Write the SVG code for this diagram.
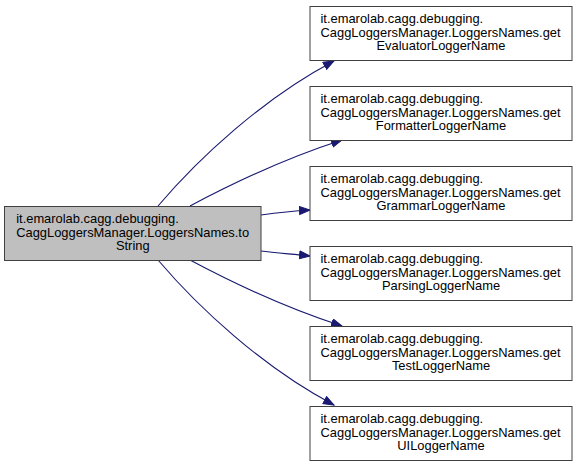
<svg xmlns="http://www.w3.org/2000/svg" width="579" height="465" viewBox="0 0 579 465">
<style>
.node rect{stroke:#404040;stroke-width:1}
.node text{font-family:"Liberation Sans",Arial,Helvetica,sans-serif;font-size:12.9px;fill:#000}
.edge{fill:none;stroke:#191970;stroke-width:1.1}
</style>
<defs>
<marker id="arr" markerUnits="userSpaceOnUse" markerWidth="13" markerHeight="10" refX="11" refY="4.5" orient="auto">
<path d="M0.5,0.5 L11,4.5 L0.5,8.5 z" fill="#191970" stroke="#191970" stroke-width="1"/>
</marker>
</defs>
<rect width="579" height="465" fill="#fff"/>
<g id="edges">
<path class="edge" marker-end="url(#arr)" d="M158,206 C198,159 262,99 334,61"/>
<path class="edge" marker-end="url(#arr)" d="M190,206 C220,190 280,160 342,140"/>
<path class="edge" marker-end="url(#arr)" d="M261,215 C275,213 292,211 310,210"/>
<path class="edge" marker-end="url(#arr)" d="M261,251 C275,253 292,254 310,256"/>
<path class="edge" marker-end="url(#arr)" d="M190,260 C220,276 280,306 342,326"/>
<path class="edge" marker-end="url(#arr)" d="M158,260 C198,307 262,367 334,405"/>
</g>
<g id="node_toString" class="node">
<rect x="4.5" y="206.5" width="256.5" height="54" fill="#bfbfbf"/>
<text x="16.2" y="223">it.emarolab.cagg.debugging.</text>
<text x="16.2" y="236.5">CaggLoggersManager.LoggersNames.to</text>
<text x="132.75" y="250" text-anchor="middle">String</text>
</g>
<g id="node_getEvaluatorLoggerName" class="node">
<rect x="310" y="6.5" width="262" height="54" fill="#fff"/>
<text x="320.5" y="23">it.emarolab.cagg.debugging.</text>
<text x="320.5" y="36.5">CaggLoggersManager.LoggersNames.get</text>
<text x="441" y="50" text-anchor="middle">EvaluatorLoggerName</text>
</g>
<g id="node_getFormatterLoggerName" class="node">
<rect x="310" y="86.5" width="262" height="54" fill="#fff"/>
<text x="320.5" y="103">it.emarolab.cagg.debugging.</text>
<text x="320.5" y="116.5">CaggLoggersManager.LoggersNames.get</text>
<text x="441" y="130" text-anchor="middle">FormatterLoggerName</text>
</g>
<g id="node_getGrammarLoggerName" class="node">
<rect x="310" y="166.5" width="262" height="54" fill="#fff"/>
<text x="320.5" y="183">it.emarolab.cagg.debugging.</text>
<text x="320.5" y="196.5">CaggLoggersManager.LoggersNames.get</text>
<text x="441" y="210" text-anchor="middle">GrammarLoggerName</text>
</g>
<g id="node_getParsingLoggerName" class="node">
<rect x="310" y="246.5" width="262" height="54" fill="#fff"/>
<text x="320.5" y="263">it.emarolab.cagg.debugging.</text>
<text x="320.5" y="276.5">CaggLoggersManager.LoggersNames.get</text>
<text x="441" y="290" text-anchor="middle">ParsingLoggerName</text>
</g>
<g id="node_getTestLoggerName" class="node">
<rect x="310" y="326.5" width="262" height="54" fill="#fff"/>
<text x="320.5" y="343">it.emarolab.cagg.debugging.</text>
<text x="320.5" y="356.5">CaggLoggersManager.LoggersNames.get</text>
<text x="441" y="370" text-anchor="middle">TestLoggerName</text>
</g>
<g id="node_getUILoggerName" class="node">
<rect x="310" y="406.5" width="262" height="54" fill="#fff"/>
<text x="320.5" y="423">it.emarolab.cagg.debugging.</text>
<text x="320.5" y="436.5">CaggLoggersManager.LoggersNames.get</text>
<text x="441" y="450" text-anchor="middle">UILoggerName</text>
</g>
</svg>
